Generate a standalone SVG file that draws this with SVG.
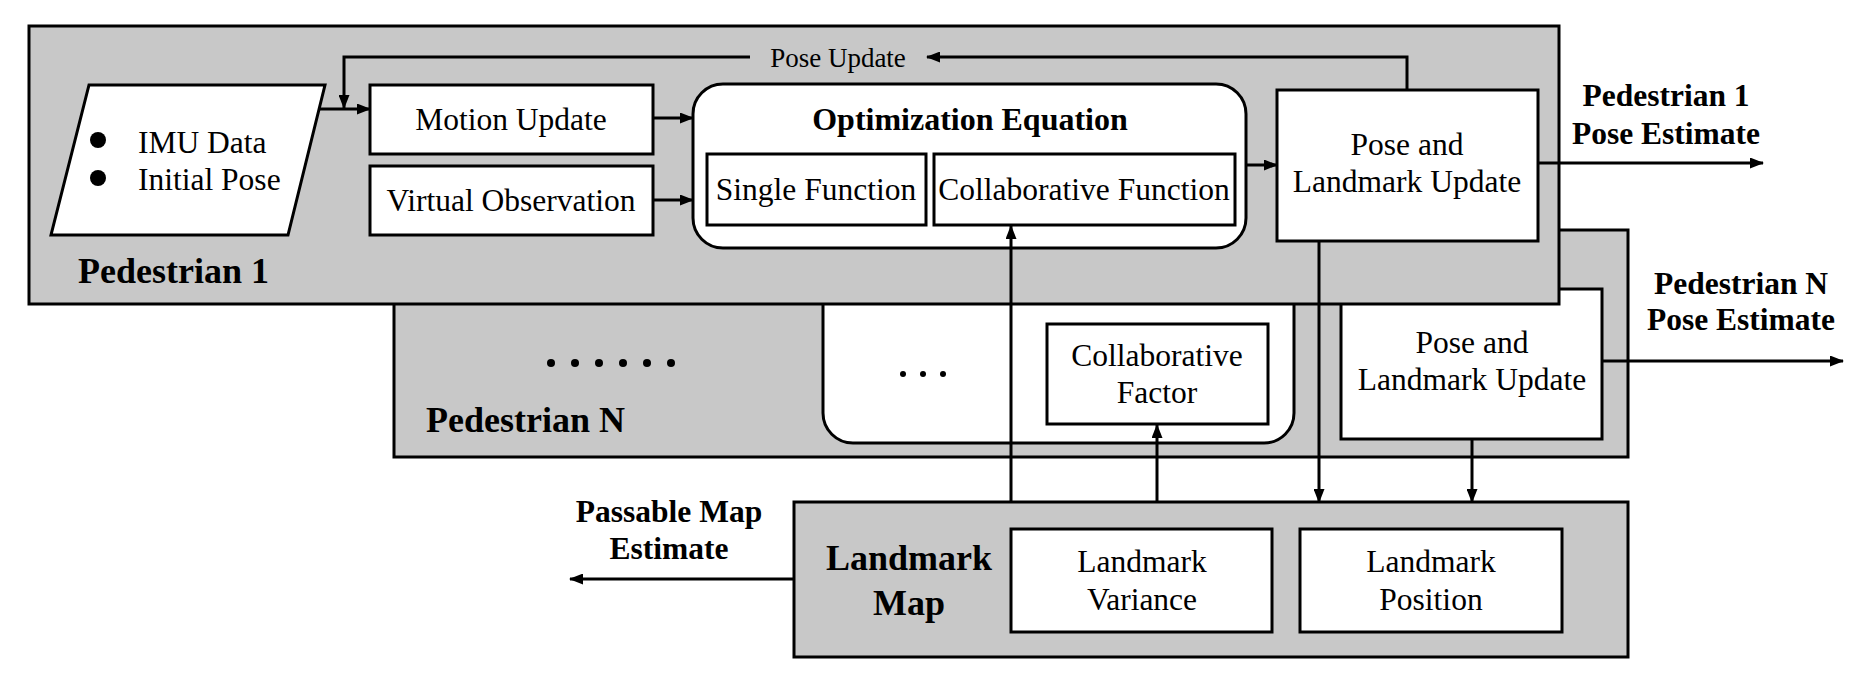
<svg xmlns="http://www.w3.org/2000/svg" width="1866" height="678" viewBox="0 0 1866 678">
<defs>
<marker id="ah" markerUnits="userSpaceOnUse" markerWidth="14" markerHeight="11" viewBox="0 0 14 11" refX="13" refY="5.5" orient="auto">
<path d="M0,0 L14,5.5 L0,11 z" fill="#000"/>
</marker>
</defs>
<style>
.grp{fill:#c8c8c8;stroke:#000;stroke-width:3}
.box{fill:#fff;stroke:#000;stroke-width:3}
.t{font-family:"Liberation Serif","Times New Roman",serif;font-size:31.5px;fill:#000}
.tc{text-anchor:middle}
.b{font-weight:bold}
.lbl{font-family:"Liberation Serif","Times New Roman",serif;font-weight:bold;font-size:31.5px;text-anchor:middle;fill:#000}
.con{fill:none;stroke:#000;stroke-width:3}
.arr{marker-end:url(#ah)}
</style>
<rect width="1866" height="678" fill="#fff"/>

<g id="pedestrianN">
<rect class="grp" x="394" y="230" width="1234" height="227"/>
<rect class="box" x="823" y="250" width="471" height="193" rx="30"/>
<g fill="#000">
<circle cx="551" cy="363" r="4"/><circle cx="575" cy="363" r="4"/><circle cx="599" cy="363" r="4"/>
<circle cx="623" cy="363" r="4"/><circle cx="647" cy="363" r="4"/><circle cx="671" cy="363" r="4"/>
<circle cx="903" cy="374" r="3"/><circle cx="923" cy="374" r="3"/><circle cx="943" cy="374" r="3"/>
</g>
<text class="t b" x="426" y="432" style="font-size:36px">Pedestrian N</text>
</g>

<g id="collabFactor">
<rect class="box" x="1047" y="324" width="221" height="100"/>
<text class="t tc" x="1157" y="366">Collaborative</text>
<text class="t tc" x="1157" y="403">Factor</text>
</g>

<g id="poseLandmarkN">
<rect class="box" x="1341" y="289" width="261" height="150"/>
<text class="t tc" x="1472" y="353">Pose and</text>
<text class="t tc" x="1472" y="390">Landmark Update</text>
</g>

<g id="pedestrian1">
<rect class="grp" x="29" y="26" width="1530" height="278"/>
<text class="t b" x="78" y="283" style="font-size:36px">Pedestrian 1</text>
</g>

<g id="input">
<polygon class="box" points="89,85 325,85 288,235 51,235"/>
<circle cx="98" cy="140" r="8" fill="#000"/>
<circle cx="98" cy="178" r="8" fill="#000"/>
<text class="t" x="138" y="153">IMU Data</text>
<text class="t" x="138" y="190">Initial Pose</text>
</g>

<g id="motionUpdate">
<rect class="box" x="370" y="85" width="283" height="69"/>
<text class="t tc" x="511" y="130">Motion Update</text>
</g>

<g id="virtualObs">
<rect class="box" x="370" y="166" width="283" height="69"/>
<text class="t tc" x="511" y="211">Virtual Observation</text>
</g>

<g id="optEq">
<rect class="box" x="693" y="84" width="553" height="164" rx="30"/>
<text class="t tc b" x="970" y="130" style="font-size:32px">Optimization Equation</text>
</g>

<g id="singleFn">
<rect class="box" x="707" y="154" width="219" height="71"/>
<text class="t tc" x="816" y="200">Single Function</text>
</g>

<g id="collabFn">
<rect class="box" x="934" y="154" width="301" height="71"/>
<text class="t tc" x="1084" y="200">Collaborative Function</text>
</g>

<g id="poseLandmark1">
<rect class="box" x="1277" y="90" width="261" height="151"/>
<text class="t tc" x="1407" y="155">Pose and</text>
<text class="t tc" x="1407" y="192">Landmark Update</text>
</g>

<g id="landmarkMap">
<rect class="grp" x="794" y="502" width="834" height="155"/>
<text class="t tc b" x="909" y="570" style="font-size:36px">Landmark</text>
<text class="t tc b" x="909" y="615" style="font-size:36px">Map</text>
</g>

<g id="landmarkVariance">
<rect class="box" x="1011" y="529" width="261" height="103"/>
<text class="t tc" x="1142" y="572">Landmark</text>
<text class="t tc" x="1142" y="610">Variance</text>
</g>

<g id="landmarkPosition">
<rect class="box" x="1300" y="529" width="262" height="103"/>
<text class="t tc" x="1431" y="572">Landmark</text>
<text class="t tc" x="1431" y="610">Position</text>
</g>

<g id="connectors">
<path class="con arr" d="M1407,90 V57 H927"/>
<path class="con arr" d="M750,57 H344 V108"/>
<path class="con arr" d="M319,109 H370"/>
<path class="con arr" d="M653,118 H693"/>
<path class="con arr" d="M653,200 H693"/>
<path class="con arr" d="M1246,165 H1277"/>
<path class="con arr" d="M1538,163 H1763"/>
<path class="con arr" d="M1602,361 H1843"/>
<path class="con arr" d="M1011,502 V226"/>
<path class="con arr" d="M1157,502 V425"/>
<path class="con arr" d="M1319,241 V502"/>
<path class="con arr" d="M1472,439 V502"/>
<path class="con arr" d="M794,579 H570"/>
</g>

<g id="labels">
<text class="t tc" x="838" y="67" style="font-size:27px">Pose Update</text>
<text class="lbl" x="1666" y="106">Pedestrian 1</text>
<text class="lbl" x="1666" y="144">Pose Estimate</text>
<text class="lbl" x="1741" y="294">Pedestrian N</text>
<text class="lbl" x="1741" y="330">Pose Estimate</text>
<text class="lbl" x="669" y="522">Passable Map</text>
<text class="lbl" x="669" y="559">Estimate</text>
</g>
</svg>
